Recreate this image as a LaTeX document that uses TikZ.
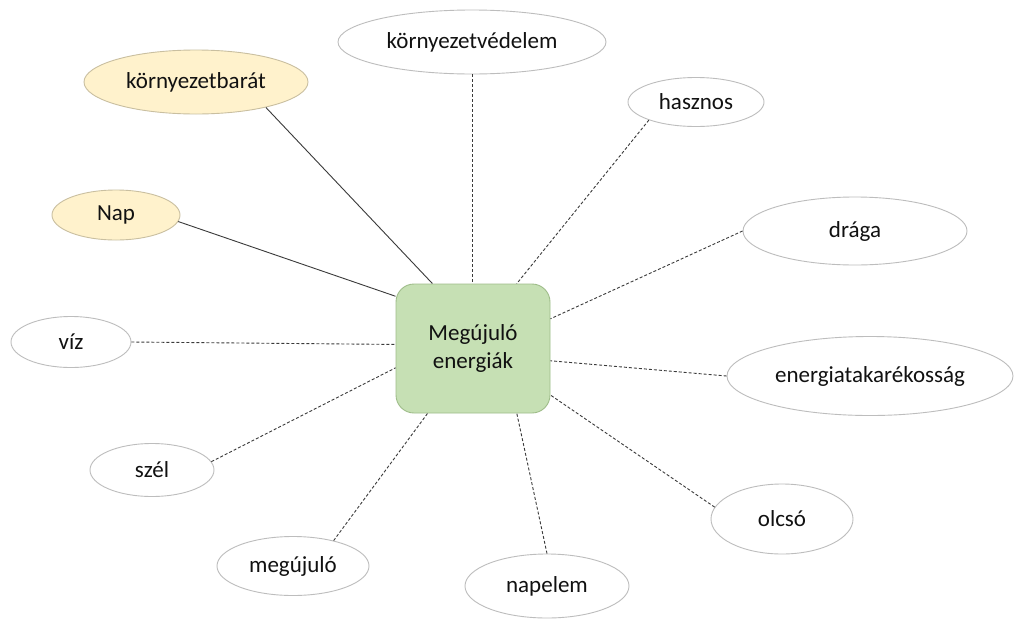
\documentclass[tikz,border=0pt]{standalone}
\usepackage{fontspec}
\setmainfont{Carlito}
\usetikzlibrary{shapes.geometric}
\definecolor{boxfill}{HTML}{C6E0B4}
\definecolor{boxline}{HTML}{9FBD8A}
\definecolor{yelfill}{HTML}{FFF2CC}
\definecolor{yelline}{HTML}{C9BFA0}
\definecolor{ellline}{HTML}{BDBDBD}
\definecolor{conn}{HTML}{3A3A3A}
\definecolor{txt}{HTML}{111111}
\begin{document}
\begin{tikzpicture}[x=1pt,y=-1pt,
  every node/.style={font=\fontsize{23}{28}\selectfont, text=txt},
  bubble/.style={ellipse, draw=ellline, line width=0.9pt, fill=white, inner sep=0pt},
  yelbubble/.style={ellipse, draw=yelline, line width=0.9pt, fill=yelfill, inner sep=0pt},
  centerbox/.style={rectangle, rounded corners=18pt, draw=boxline, line width=0.9pt, fill=boxfill,
     minimum width=154pt, minimum height=129pt, align=center, inner sep=0pt},
  dashconn/.style={draw=conn, line width=0.9pt, dash pattern=on 3pt off 2pt},
  solidconn/.style={draw=conn, line width=0.9pt}
]
\useasboundingbox (0,0) rectangle (1015,619);
\fill[white] (0,0) rectangle (1015,619);

\node[centerbox] (box) at (473,348.5) {Megújuló\\[-0.5pt]energiák};

\node[bubble, minimum width=268pt, minimum height=64pt] (kv) at (472,42) {környezetvédelem};
\node[yelbubble, minimum width=224pt, minimum height=64pt] (kb) at (196,82) {környezetbarát};
\node[bubble, minimum width=136pt, minimum height=49pt] (ha) at (696,102) {hasznos};
\node[yelbubble, minimum width=128pt, minimum height=50pt] (nap) at (116,215) {Nap};
\node[bubble, minimum width=224pt, minimum height=68pt] (dr) at (855,231) {drága};
\node[bubble, minimum width=120pt, minimum height=51pt] (viz) at (71,342) {víz};
\node[bubble, minimum width=286pt, minimum height=79pt] (et) at (870,376) {energiatakarékosság};
\node[bubble, minimum width=124pt, minimum height=53pt] (sz) at (152,470) {szél};
\node[bubble, minimum width=142pt, minimum height=70pt] (ol) at (782,519) {olcsó};
\node[bubble, minimum width=152pt, minimum height=59pt] (mu) at (293,566) {megújuló};
\node[bubble, minimum width=164pt, minimum height=64pt] (np) at (547,586) {napelem};

\draw[dashconn] (kv.south) -- (kv.south |- box.north);
\draw[solidconn] (kb.-20) -- (box.122);
\draw[dashconn] (ha.201) -- (box.56);
\draw[solidconn] (nap.-6) -- (box.146);
\draw[dashconn] (dr.west) -- (box.21);
\draw[dashconn] (viz.east) -- (box.177);
\draw[dashconn] (et.west) -- (box.-9);
\draw[dashconn] (sz.8) -- (box.194);
\draw[dashconn] (ol.170) -- (box.-31);
\draw[dashconn] (mu.32) -- (box.235);
\draw[dashconn] (np.north) -- (box.-56);
\end{tikzpicture}
\end{document}
